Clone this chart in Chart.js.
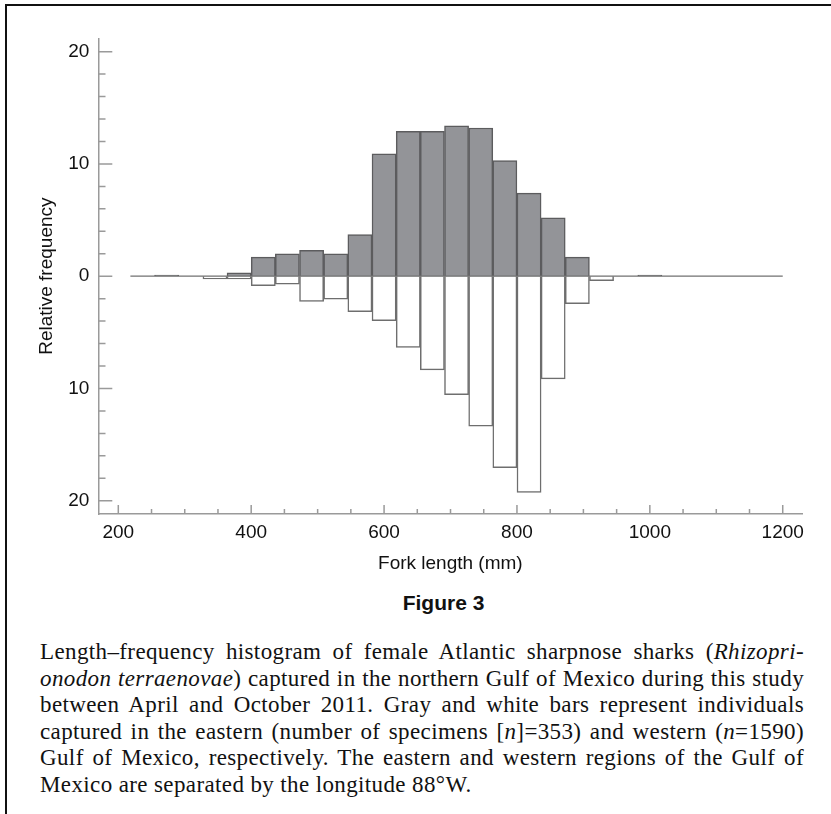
<!DOCTYPE html>
<html>
<head>
<meta charset="utf-8">
<script src="https://cdn.jsdelivr.net/npm/chart.js@4.4.1/dist/chart.umd.min.js"></script>
<style>
    html, body { margin: 0; padding: 0; background: #fff; }
    body { width: 831px; height: 814px; position: relative; overflow: hidden; }
    #frame { position: absolute; left: 5px; top: 4px; width: 900px; height: 900px;
             border-left: 2px solid #111; border-top: 2px solid #111; }
    #chartBox { position: absolute; left: 0; top: 0; width: 831px; height: 590px; }
    #figTitle { position: absolute; left: 0; width: 831px; top: 590px; text-align: center;
                font-family: 'Liberation Sans Narrow', 'Liberation Sans', sans-serif; font-weight: bold;
                font-size: 21px; line-height: 26px; color: #111; padding-left: 56px; box-sizing: border-box; }
    #caption { position: absolute; left: 40px; width: 764px; top: 639px;
               font-family: 'Liberation Serif', serif; font-size: 23px; line-height: 26.5px;
               color: #111; letter-spacing: 0.38px; }
    #caption div { text-align: justify; text-align-last: justify; white-space: nowrap; }
    #caption div.last { text-align-last: left; }
</style>
</head>
<body>
<div id="frame"></div>
<div id="chartBox"><canvas id="histChart" width="831" height="590"></canvas></div>
<div id="figTitle">Figure 3</div>
<div id="caption">
    <div>Length–frequency histogram of female Atlantic sharpnose sharks (<i>Rhizopri-</i></div>
    <div><i>onodon terraenovae</i>) captured in the northern Gulf of Mexico during this study</div>
    <div>between April and October 2011. Gray and white bars represent individuals</div>
    <div>captured in the eastern (number of specimens [<i>n</i>]=353) and western (<i>n</i>=1590)</div>
    <div>Gulf of Mexico, respectively. The eastern and western regions of the Gulf of</div>
    <div class="last">Mexico are separated by the longitude 88°W.</div>
</div>
<script>
// fork length bin midpoints (mm)
const binMids = [236.4, 272.7, 309.1, 345.5, 381.8, 418.2, 454.5, 490.9, 527.3, 563.6,
                 600.0, 636.4, 672.7, 709.1, 745.5, 781.8, 818.2, 854.5, 890.9, 927.3,
                 963.6, 1000.0, 1036.4, 1072.7, 1109.1, 1145.5, 1181.8];
// eastern Gulf (gray bars), relative frequency %
const easternFreq = [null, 0.1, null, null, 0.3, 1.7, 2.0, 2.3, 2.0, 3.7,
                     10.9, 12.9, 12.9, 13.4, 13.2, 10.3, 7.4, 5.2, 1.7, null,
                     null, 0.1, null, null, null, null, null];
// western Gulf (white bars, drawn downward), relative frequency %
const westernFreq = [null, null, null, 0.25, 0.25, 0.85, 0.7, 2.25, 2.05, 3.15,
                     3.95, 6.35, 8.35, 10.55, 13.35, 17.05, 19.25, 9.15, 2.45, 0.4,
                     null, null, null, null, null, null, null];
const xTickLabels = [200, 400, 600, 800, 1000, 1200];
const yTickLabels = [20, 10, 0, 10, 20];
const baseLine = [218.2, 1200];

const axisFont = { family: "'Liberation Sans', Arial, sans-serif", size: 19 };

// inward tick marks (major + minor) drawn from the scales
const tickMarks = {
    id: 'tickMarks',
    afterDraw(chart) {
        const { ctx, chartArea, scales: { x, y } } = chart;
        ctx.save();
        ctx.strokeStyle = '#9a9a9a';
        ctx.lineWidth = 1.5;
        ctx.beginPath();
        for (let v = -20; v <= 20; v += 2) {
            const py = y.getPixelForValue(v);
            const len = v % 10 === 0 ? 13.6 : 6.8;
            ctx.moveTo(chartArea.left, py);
            ctx.lineTo(chartArea.left + len, py);
        }
        for (let v = 200; v <= 1200; v += 50) {
            const px = x.getPixelForValue(v);
            const len = v % 200 === 0 ? 9 : 5;
            ctx.moveTo(px, chartArea.bottom);
            ctx.lineTo(px, chartArea.bottom - len);
        }
        ctx.stroke();
        ctx.restore();
    }
};

document.addEventListener('DOMContentLoaded', () => {
    const ctx = document.getElementById('histChart').getContext('2d');

    new Chart(ctx, {
        type: 'bar',
        data: {
            datasets: [
                {
                    label: 'Eastern',
                    data: binMids.map((m, i) => ({ x: m, y: easternFreq[i] })),
                    backgroundColor: '#939498',
                    borderColor: '#5c5c5e',
                    borderWidth: 1.5,
                    barPercentage: 1,
                    categoryPercentage: 1,
                    grouped: false,
                    order: 2
                },
                {
                    label: 'Western',
                    data: binMids.map((m, i) => ({ x: m, y: westernFreq[i] === null ? null : -westernFreq[i] })),
                    backgroundColor: '#ffffff',
                    borderColor: '#6e6e6e',
                    borderWidth: 1.5,
                    barPercentage: 1,
                    categoryPercentage: 1,
                    grouped: false,
                    order: 3
                },
                {
                    type: 'line',
                    label: 'zero',
                    data: baseLine.map(v => ({ x: v, y: 0 })),
                    borderColor: '#707070',
                    borderWidth: 1.3,
                    pointRadius: 0,
                    order: 1
                }
            ]
        },
        options: {
            responsive: false,
            animation: false,
            events: [],
            layout: { padding: { top: 38.3, right: 29, left: 0, bottom: 0 } },
            plugins: { legend: { display: false }, tooltip: { enabled: false } },
            scales: {
                x: {
                    type: 'linear',
                    offset: false,
                    min: 170.5,
                    max: 1229,
                    afterFit: s => { s.height = 76; },
                    afterBuildTicks: s => { s.ticks = xTickLabels.map(v => ({ value: v })); },
                    grid: { display: false, drawTicks: false },
                    border: { display: true, color: '#9a9a9a', width: 1.5 },
                    ticks: {
                        font: axisFont, color: '#111', padding: 7, maxRotation: 0, autoSkip: false,
                        callback: (v, i) => String(xTickLabels[i])
                    },
                    title: { display: true, text: 'Fork length (mm)', font: axisFont, color: '#111',
                             padding: { top: 0, bottom: 14.6 } }
                },
                y: {
                    type: 'linear',
                    min: -21.18,
                    max: 21.19,
                    afterFit: s => { s.width = 98.7; },
                    afterBuildTicks: s => { s.ticks = [20, 10, 0, -10, -20].map(v => ({ value: v })); },
                    grid: { display: false, drawTicks: false },
                    border: { display: true, color: '#9a9a9a', width: 1.5 },
                    ticks: {
                        font: axisFont, color: '#111', padding: 9.4, autoSkip: false,
                        callback: (v, i) => yTickLabels[i]
                    },
                    title: { display: true, text: 'Relative frequency', font: axisFont, color: '#111',
                             padding: { top: 35.3, bottom: 0 } }
                }
            }
        },
        plugins: [tickMarks]
    });
});
</script>
</body>
</html>
